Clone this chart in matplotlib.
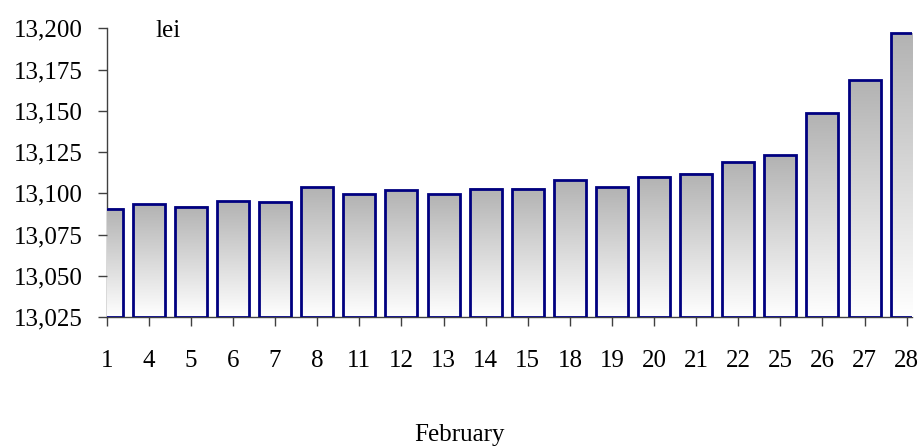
import numpy as np
import matplotlib
matplotlib.use("Agg")
import matplotlib.pyplot as plt
from matplotlib.ticker import FuncFormatter, MultipleLocator

plt.rcParams['font.family'] = ['Liberation Serif', 'DejaVu Serif']

days = ["1", "4", "5", "6", "7", "8", "11", "12", "13", "14", "15", "18",
        "19", "20", "21", "22", "25", "26", "27", "28"]
values = [13090.7, 13093.3, 13091.9, 13095.3, 13094.5, 13103.6, 13099.5,
          13101.8, 13099.5, 13102.6, 13102.6, 13108.0, 13103.6, 13110.0,
          13111.7, 13118.9, 13123.0, 13148.4, 13168.4, 13196.9]
y_min, y_max = 13025, 13200
unit_label = "lei"
x_title = "February"

FS = 18

fig = plt.figure(figsize=(9.19, 4.48), dpi=100)
ax = fig.add_axes([0.1161, 0.2924, 0.8763, 0.6444])

x = np.arange(len(days))
width = 0.76
grad = np.linspace(0.70, 1.0, 256).reshape(-1, 1)
grad_rgb = np.repeat(grad[:, :, None], 3, axis=2)

for xi, v in zip(x, values):
    ax.imshow(grad_rgb, extent=[xi - width / 2, xi + width / 2, y_min, v],
              origin='upper', aspect='auto', zorder=1, interpolation='bilinear')

ax.bar(x, np.array(values) - y_min, bottom=y_min, width=width,
       facecolor='none', edgecolor='#000080', linewidth=2.0, zorder=2)

ax.set_xlim(0, 19.126)
ax.set_ylim(y_min, y_max)
ax.set_xticks(x)
ax.set_xticklabels(days)
ax.yaxis.set_major_locator(MultipleLocator(25))
ax.yaxis.set_major_formatter(FuncFormatter(lambda v, p: f"{v:,.0f}"))

for s in ['top', 'right']:
    ax.spines[s].set_visible(False)
for s in ['left', 'bottom']:
    ax.spines[s].set_color('#404040')
    ax.spines[s].set_linewidth(1.0)
    ax.spines[s].set_zorder(0.5)

ax.tick_params(axis='y', direction='out', length=6.5, width=1, color='#404040',
               labelsize=FS, pad=10.5)
ax.tick_params(axis='x', direction='out', length=6.5, width=1, color='#404040',
               labelsize=FS, pad=17)

fig.text(155 / 919, 1 - 37 / 448, unit_label, fontsize=FS, ha='left', va='baseline')
fig.text(0.5, 1 - 435 / 448, x_title, fontsize=FS, ha='center', va='center')

fig.savefig("out.png", dpi=100)
